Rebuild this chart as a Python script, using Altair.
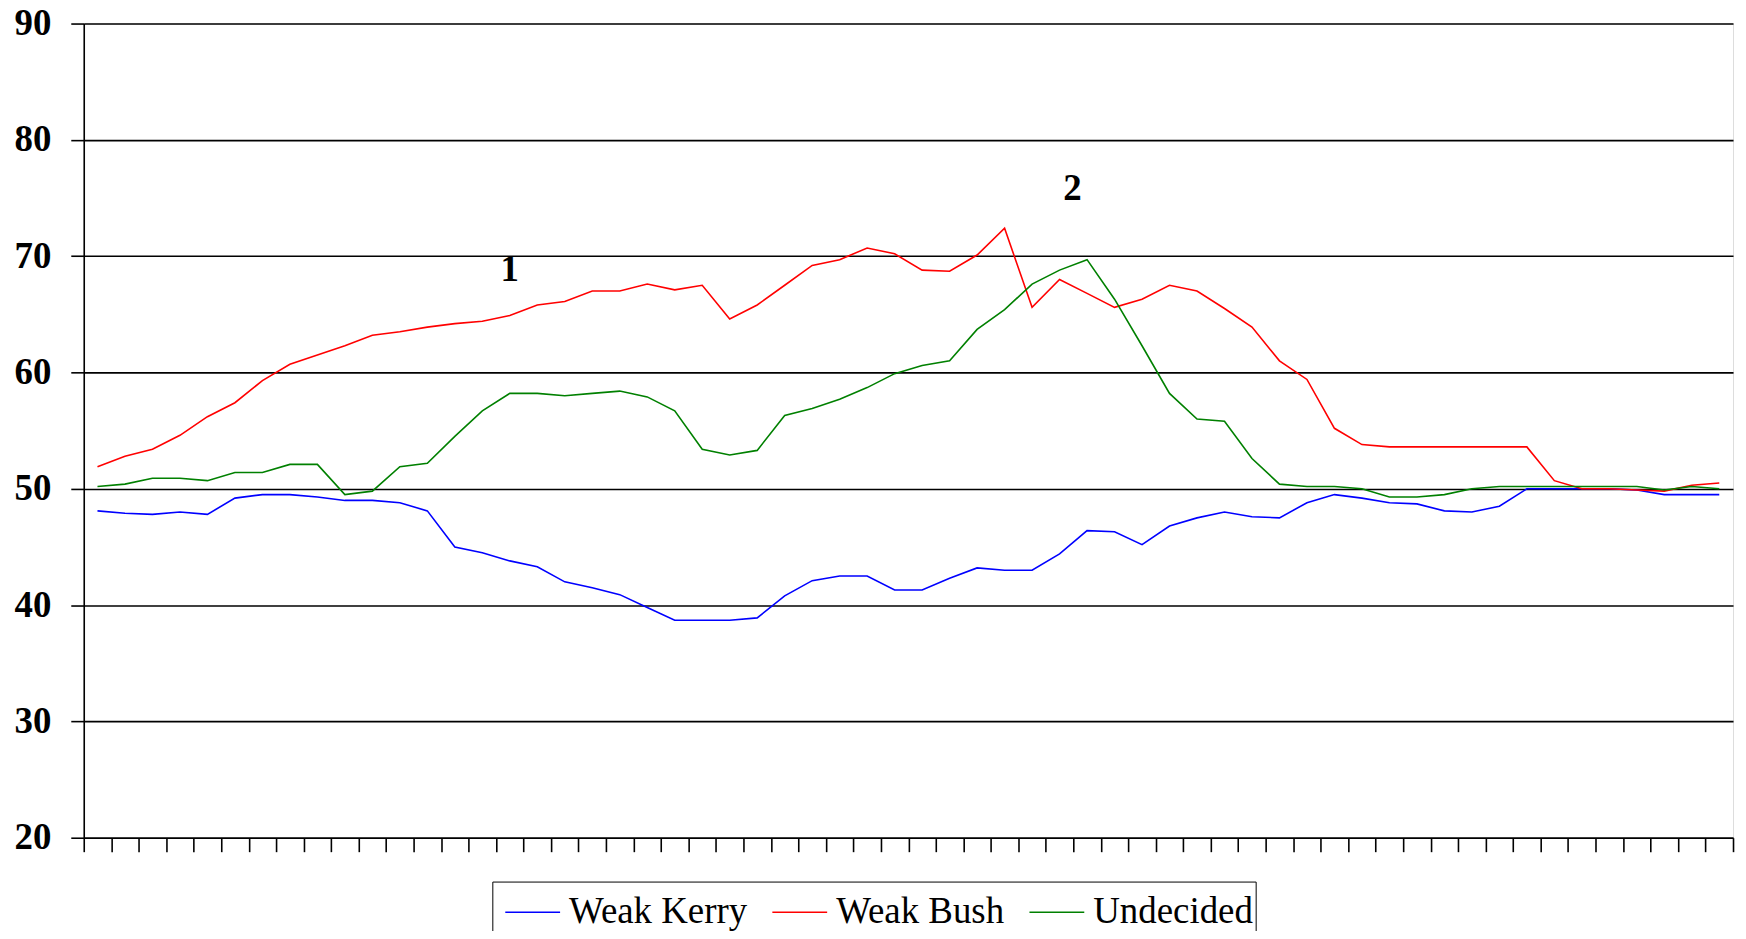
import altair as alt
import pandas as pd

# ---- data (60 time points) ----
series_names = ["Weak Kerry", "Weak Bush", "Undecided"]
series_colors = ["#0000FF", "#FF0000", "#008000"]

weak_kerry = [48.1, 47.9, 47.8, 48.0, 47.8, 49.2, 49.5, 49.5, 49.3, 49.0,
              49.0, 48.8, 48.1, 45.0, 44.5, 43.8, 43.3, 42.0, 41.5, 40.9,
              39.8, 38.7, 38.7, 38.7, 38.9, 40.8, 42.1, 42.5, 42.5, 41.3,
              41.3, 42.3, 43.2, 43.0, 43.0, 44.4, 46.4, 46.3, 45.2, 46.8,
              47.5, 48.0, 47.6, 47.5, 48.8, 49.5, 49.2, 48.8, 48.7, 48.1,
              48.0, 48.5, 50.0, 50.0, 50.0, 50.0, 49.9, 49.5, 49.5, 49.5]

weak_bush = [51.9, 52.8, 53.4, 54.6, 56.2, 57.4, 59.3, 60.7, 61.5, 62.3,
             63.2, 63.5, 63.9, 64.2, 64.4, 64.9, 65.8, 66.1, 67.0, 67.0,
             67.6, 67.1, 67.5, 64.6, 65.8, 67.5, 69.2, 69.7, 70.7, 70.2,
             68.8, 68.7, 70.1, 72.4, 65.6, 68.0, 66.8, 65.6, 66.3, 67.5,
             67.0, 65.5, 63.9, 61.0, 59.4, 55.2, 53.8, 53.6, 53.6, 53.6,
             53.6, 53.6, 53.6, 50.7, 50.0, 50.0, 49.9, 49.8, 50.3, 50.5]

undecided = [50.2, 50.4, 50.9, 50.9, 50.7, 51.4, 51.4, 52.1, 52.1, 49.5,
             49.8, 51.9, 52.2, 54.5, 56.7, 58.2, 58.2, 58.0, 58.2, 58.4,
             57.9, 56.7, 53.4, 52.9, 53.3, 56.3, 56.9, 57.7, 58.7, 59.9,
             60.6, 61.0, 63.7, 65.4, 67.6, 68.8, 69.7, 66.3, 62.3, 58.2,
             56.0, 55.8, 52.6, 50.4, 50.2, 50.2, 50.0, 49.3, 49.3, 49.5,
             50.0, 50.2, 50.2, 50.2, 50.2, 50.2, 50.2, 49.9, 50.2, 50.0]

y_ticks = [20, 30, 40, 50, 60, 70, 80, 90]

annot_text = ["1", "2"]
annot_idx = [15, 35]
annot_y = [68.8, 75.8]

# ---- tables ----
rows = []
for name, vals in zip(series_names, [weak_kerry, weak_bush, undecided]):
    for i, v in enumerate(vals):
        rows.append({"t": i, "value": v, "series": name})
df = pd.DataFrame(rows)
ann = pd.DataFrame({"t": annot_idx, "value": annot_y, "label": annot_text})

FONT = "Liberation Serif"

x_enc = alt.X(
    "t:O",
    scale=alt.Scale(type="band", paddingInner=0, paddingOuter=0),
    axis=alt.Axis(labels=False, title=None, tickBand="extent", ticks=True,
                  tickSize=14, tickColor="black", tickWidth=1.6,
                  domainColor="black", domainWidth=1.6, grid=False),
)
y_enc = alt.Y(
    "value:Q",
    scale=alt.Scale(domain=[20, 90], nice=False, zero=False),
    axis=alt.Axis(values=y_ticks, title=None, grid=True, gridColor="black",
                  gridWidth=1.6, gridOpacity=1, domainColor="black",
                  domainWidth=1.6, tickColor="black", tickWidth=1.6,
                  tickSize=13, labelFont=FONT, labelFontSize=37,
                  labelFontWeight="bold", labelColor="black",
                  labelPadding=20),
)
color_enc = alt.Color(
    "series:N",
    scale=alt.Scale(domain=series_names, range=series_colors),
    legend=alt.Legend(
        orient="none", legendX=410, legendY=861, direction="horizontal",
        columns=3, title=None, symbolType="stroke", symbolSize=3025,
        symbolStrokeWidth=1.5, labelFont=FONT, labelFontSize=37,
        labelColor="black", strokeColor="black", fillColor="white",
        padding=2, symbolOffset=10, labelOffset=8, columnPadding=14,
        labelLimit=400,
    ),
)

base = alt.Chart(df)
layers = []
for name in series_names:
    layers.append(
        base.transform_filter(alt.datum.series == name)
        .mark_line(strokeWidth=1.6)
        .encode(x=x_enc, y=y_enc, color=color_enc)
    )

ann_layers = []
for k, shift in enumerate([0, 13]):
    ann_layers.append(
        alt.Chart(ann)
        .transform_filter(alt.datum.label == annot_text[k])
        .mark_text(font=FONT, fontSize=37, fontWeight="bold", color="black",
                   baseline="middle", align="center", dx=shift)
        .encode(x=alt.X("t:O"), y=alt.Y("value:Q"), text="label:N")
    )

chart = (
    alt.layer(*layers, *ann_layers)
    .properties(width=1655, height=817,
                autosize=alt.AutoSizeParams(type="none"),
                padding={"left": 76, "top": 14, "right": 5, "bottom": 92})
    .configure_view(stroke="black", strokeWidth=1.6)
    .configure_legend(strokeWidth=1.5)
    .configure(background="white")
)

chart.save("out.html", embed_options={"renderer": "svg", "actions": False})
